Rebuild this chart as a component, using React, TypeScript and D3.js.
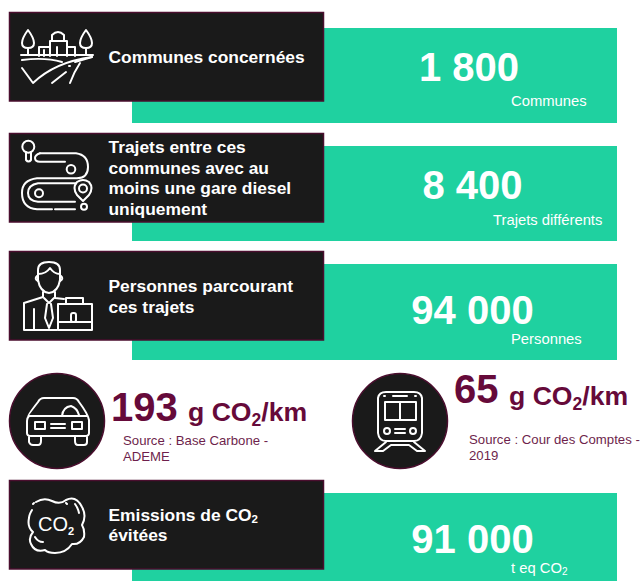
import React from "react";
import * as d3 from "d3";

const rowLabels: string[][] = [
  ["Communes concernées"],
  ["Trajets entre ces", "communes avec au", "moins une gare diesel", "uniquement"],
  ["Personnes parcourant", "ces trajets"],
  ["Emissions de CO|2", "évitées"],
];
const rowValues = ["1 800", "8 400", "94 000", "91 000"];
const rowUnits = ["Communes", "Trajets différents", "Personnes", "t eq CO|2"];
const modeValues = ["193", "65"];
const modeUnit = "g CO|2/km";
const modeSources: string[][] = [
  ["Source : Base Carbone -", "ADEME"],
  ["Source : Cour des Comptes -", "2019"],
];

const W = 643, H = 581;
const GREEN = "#1fd1a0", DARK = "#1a1a1a", EDGE = "#4a0e2e", WINE = "#660a3a", WINE2 = "#6e1f4c";
const FONT = "'Liberation Sans', Arial, sans-serif";

// layout, separate from data
const boxTop = [12, 133, 251, 480];
const greenTop = [28, 146, 264, 493];
const greenBottom = [123, 241, 360, 581];
const labelBase = [[63], [153, 174, 194, 215], [292, 313], [521, 541]];
const valueX = [469, 472.5, 472.5, 472.5];
const valueBase = [81, 199, 324, 553];
const unitX = [511, 493, 511, 511];
const unitBase = [106, 225, 344, 573];

const modeCx = [57, 400];
const modeCy = 421;
const modeValX = [111, 454];
const modeValBase = [421, 403];
const modeUnitX = [188, 509];
const modeUnitBase = [421, 405];
const srcX = [123, 469];
const srcBase = [[445, 461], [444, 460]];

function Sub({ text, size, subSize, dy = 4 }: { text: string; size: number; subSize: number; dy?: number }) {
  const parts = text.split("|");
  if (parts.length === 1) return <>{text}</>;
  const after = parts[1].slice(1);
  return (
    <>
      {parts[0]}
      <tspan fontSize={subSize} dy={dy}>{parts[1][0]}</tspan>
      {after ? <tspan fontSize={size} dy={-dy}>{after}</tspan> : null}
    </>
  );
}

const iconStyle = { fill: "none", stroke: "#fff", strokeWidth: 2, strokeLinecap: "round" as const, strokeLinejoin: "round" as const };

function VillageIcon() {
  return (
    <g {...iconStyle}>
      <path d="M28 30 C25 34 22 40 22 43 C22 47 25 48 28 48 C31 48 34 47 34 43 C34 40 31 34 28 30 Z M28 48 V54" />
      <path d="M86 30 C83 34 80 40 80 43 C80 47 83 48 86 48 C89 48 92 47 92 43 C92 40 89 34 86 30 Z M86 48 V54" />
      <path d="M39 56 V47 H50 V41 H52 V35 Q58 29 64 35 V41 H67 V47 H75 V56 M50 47 V56 M67 47 V56 M52 41 H64 M57 47 V56 M44 50 V56" />
      <path d="M21 55 H93" />
      <path d="M22 60 Q45 57 62 62 M22 68 L33 83 Q55 62 92 57" />
      <path d="M52 83 L66 72 M70 83 Q74 72 80 63 M75 62 L92 57 M69 66 L70 66" />
    </g>
  );
}
function RouteIcon() {
  return (
    <g {...iconStyle}>
      <circle cx="28.3" cy="146.7" r="6" />
      <path d="M26 152 V160 Q28.5 163 31 160 V152" />
      <path d="M40 153.3 H76 Q88 155 88 167 Q88 178 77 178.3 H37 Q22 180 22 193 Q22 208 37 209.3 H52 M55 209.3 H75" />
      <path d="M40 153.3 Q35 155 35 158 Q35 161.7 40 161.7 H65" />
      <circle cx="71" cy="169.3" r="4.3" />
      <path d="M77 183.3 H38 Q28 185 28 193 Q28 201 38 201.7 H75" />
      <circle cx="39" cy="193.3" r="4" />
      <path d="M83 201 L77 195 Q72 188 77 182 Q83 178 89 182 Q94 188 89 195 Z" fill={DARK} />
      <circle cx="83" cy="188.5" r="4" />
      <circle cx="84" cy="206.7" r="3" />
    </g>
  );
}
function PersonIcon() {
  return (
    <g {...iconStyle}>
      <path d="M38 270 V280 Q40 292 49 293 Q58 292 60 280 V270 Q60 262 49 262 Q38 262 38 270 Z" />
      <path d="M38 274 Q46 274 50 268 Q54 274 60 274" />
      <path d="M37 276 Q34 279 38 281 M61 276 Q64 279 60 281" />
      <path d="M43 292 V297 L24 303 V330 H57 M34 309 V330 M55 292 V298 L64 299" />
      <path d="M44 298 L49 303 L54 298 M47 304 L45 318 L49 328 L53 318 L51 304" />
      <path d="M66 304 V298 H83 V304" />
      <rect x="58" y="304" width="34" height="26" fill={DARK} />
      <path d="M58 322 H92" />
      <rect x="71" y="313" width="5" height="9" rx="2" fill={DARK} />
    </g>
  );
}
function CarIcon() {
  return (
    <g {...iconStyle}>
      <path d="M28 417 Q27 416 38 402 Q40 398 44 398 H73 Q77 398 79 402 Q88 414 89 420 V433 Q89 436 85 436 H31 Q27 436 27 433 V421 Q27 418 29 416 H87" />
      <path d="M62 416 Q63 407 71 406 Q77 408 79 415" />
      <rect x="35" y="422" width="10" height="7" />
      <rect x="72" y="422" width="10" height="7" />
      <path d="M51 424 H65 M51 428 H65" />
      <path d="M29 437 V442 Q30 445 33 445 H38 Q41 445 41 441 V437 M75 437 V441 Q75 445 78 445 H84 Q87 445 87 442 V437" />
    </g>
  );
}
function TrainIcon() {
  return (
    <g {...iconStyle}>
      <path d="M378 398 Q379 392 386 392 H414 Q421 392 422 398 V433 Q421 441 414 441 H386 Q379 441 378 433 Z" />
      <path d="M385 402 H416 V420 H385 Z M400 402 V420" />
      <path d="M393 396 H407 M384 396 H385 M415 396 H416" />
      <circle cx="387" cy="431" r="3" />
      <circle cx="413" cy="431" r="3" />
      <path d="M395 429 H405 M395 433 H405" />
      <path d="M386 442 L375 451 H383 L391 445 H409 L417 451 H425 L414 442" />
    </g>
  );
}
function CloudIcon() {
  return (
    <g {...iconStyle}>
      <path d="M36 502 Q44 497 52 501 Q60 505 66 500 Q76 495 82 507 Q87 516 82 525 Q85 530 84 537 Q80 545 72 544 Q66 553 55 553 Q48 553 45 550 Q35 553 31 544 Q28 538 33 532 Q27 527 29 518 Q29 515 32 510" />
      <path d="M75 504 Q78 508 79 513 M66 503 L67 504 M34 503 L33 504 M35 537 Q38 542 43 542" />
      <text x="38" y="531" fontFamily={FONT} fontSize="20" stroke="none" fill="#fff">CO</text>
      <text x="68" y="535" fontFamily={FONT} fontSize="11" fontWeight="bold" stroke="none" fill="#fff">2</text>
    </g>
  );
}

const rowIcons = [<VillageIcon />, <RouteIcon />, <PersonIcon />, <CloudIcon />];
const modeIcons = [<CarIcon />, <TrainIcon />];

export default function App() {
  const x = d3.scaleLinear().domain([0, W]).range([0, W]);
  return (
    <svg width={W} height={H} viewBox={`0 0 ${W} ${H}`} style={{ position: "absolute", left: 0, top: 0 }} fontFamily={FONT}>
      <rect width={W} height={H} fill="#fff" />
      {rowLabels.map((lines, i) => (
        <g key={i}>
          <rect x={x(132)} y={greenTop[i]} width={x(617) - x(132)} height={greenBottom[i] - greenTop[i]} fill={GREEN} />
          <rect x={9.5} y={boxTop[i] + 0.5} width={314} height={88.5} fill={DARK} stroke={EDGE} strokeWidth={1.5} />
          {rowIcons[i]}
          {lines.map((l, j) => (
            <text key={j} x={108.5} y={labelBase[i][j]} fill="#fff" fontWeight="bold" fontSize={17.4}>
              <Sub text={l} size={17.4} subSize={11.5} dy={2} />
            </text>
          ))}
          <text x={valueX[i]} y={valueBase[i]} fill="#fff" fontWeight="bold" fontSize={40} textAnchor="middle">{rowValues[i]}</text>
          <text x={unitX[i]} y={unitBase[i]} fill="#fff" fontSize={14.8}>
            <Sub text={rowUnits[i]} size={14.8} subSize={10} dy={2} />
          </text>
        </g>
      ))}
      {modeValues.map((v, i) => (
        <g key={v}>
          <circle cx={modeCx[i]} cy={modeCy} r={47.5} fill={DARK} stroke={EDGE} strokeWidth={1.5} />
          {modeIcons[i]}
          <text x={modeValX[i]} y={modeValBase[i]} fill={WINE} fontWeight="bold" fontSize={40}>{v}</text>
          <text x={modeUnitX[i]} y={modeUnitBase[i]} fill={WINE} fontWeight="bold" fontSize={26.6}>
            <Sub text={modeUnit} size={26.6} subSize={17.5} dy={5} />
          </text>
          {modeSources[i].map((l, j) => (
            <text key={j} x={srcX[i]} y={srcBase[i][j]} fill={WINE2} fontSize={13.2}>{l}</text>
          ))}
        </g>
      ))}
    </svg>
  );
}
